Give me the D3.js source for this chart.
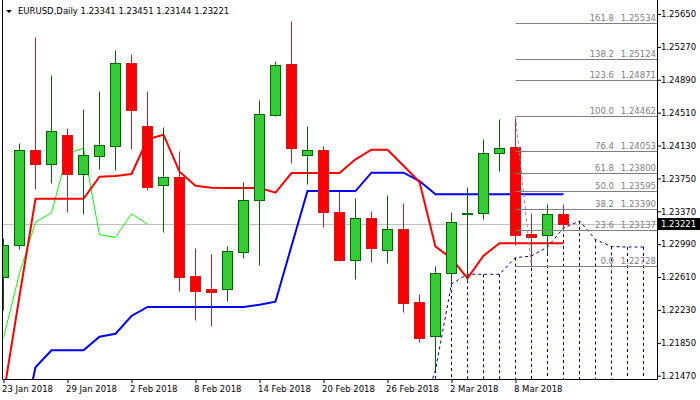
<!DOCTYPE html>
<html>
<head>
<meta charset="utf-8">
<script src="https://cdn.jsdelivr.net/npm/d3@7"></script>
<style>
  body { margin: 0; background: #fff; }
  text { font-family: "DejaVu Sans", Tahoma, sans-serif; font-size: 8.5px; }
</style>
</head>
<body>
<svg id="chart" width="700" height="400"></svg>
<script>
// EURUSD daily candles, 23 Jan .. 13 Mar 2018
var opens  = [1.22607,1.22980,1.24075,1.23920,1.24248,1.23804,1.24012,1.24128,1.25080,1.24352,1.23670,1.23763,1.22622,1.22472,1.22475,1.22903,1.23497,1.24486,1.25069,1.24017,1.24078,1.23358,1.22810,1.23289,1.22926,1.23162,1.22318,1.21929,1.22653,1.23342,1.23347,1.24040,1.24109,1.23107,1.23099,1.23341];
var highs  = [1.23061,1.24156,1.25381,1.24945,1.24332,1.24552,1.24760,1.25234,1.25188,1.24760,1.24341,1.24067,1.22946,1.22876,1.22969,1.23705,1.24656,1.25107,1.25569,1.24356,1.24124,1.23608,1.23527,1.23373,1.23558,1.23466,1.22414,1.22738,1.23362,1.23651,1.24205,1.24440,1.24462,1.23350,1.23454,1.23451];
var lows   = [1.22229,1.22931,1.23628,1.23697,1.23365,1.23339,1.23859,1.23847,1.24093,1.23619,1.23134,1.22452,1.22117,1.22048,1.22337,1.22834,1.22753,1.24475,1.23931,1.23689,1.23192,1.22799,1.22587,1.22787,1.22772,1.22209,1.21863,1.21536,1.22518,1.22576,1.23277,1.23839,1.22977,1.22728,1.22884,1.23144];
var closes = [1.22977,1.24075,1.23920,1.24294,1.23804,1.24017,1.24133,1.25080,1.24544,1.23654,1.23763,1.22614,1.22452,1.22443,1.22908,1.23497,1.24491,1.25057,1.24098,1.24075,1.23365,1.22810,1.23289,1.22949,1.23162,1.22313,1.21909,1.22653,1.23243,1.23354,1.24040,1.24098,1.23099,1.23069,1.23342,1.23221];

// ichimoku lines
var tenkan = [1.21247,1.22391,1.23515,1.23515,1.23515,1.23515,1.23770,1.23778,1.23801,1.24202,1.24255,1.23827,1.23666,1.23643,1.23639,1.23639,1.23639,1.23585,1.23812,1.23812,1.23812,1.23812,1.23971,1.24082,1.24082,1.23897,1.23708,1.22961,1.22827,1.22596,1.22857,1.23000,1.23000,1.23000,1.23000,1.23000];
var kijun  = [1.20704,1.20704,1.21567,1.21763,1.21763,1.21763,1.21921,1.21955,1.22160,1.22264,1.22264,1.22264,1.22264,1.22264,1.22264,1.22264,1.22290,1.22325,1.22969,1.23604,1.23604,1.23604,1.23604,1.23816,1.23816,1.23816,1.23720,1.23566,1.23566,1.23566,1.23566,1.23566,1.23566,1.23566,1.23566,1.23566];
var chikou = [1.21909,1.22653,1.23243,1.23354,1.24040,1.24098,1.23099,1.23069,1.23342,1.23221];
var spanStart = 26; // first bar of the drawn cloud
var spanA  = [1.20976,1.21536,1.22530,1.22642,1.22642,1.22642,1.22834,1.22853,1.22957,1.23177,1.23258,1.23044,1.22963,1.22957,1.22957];
var spanB  = [1.20450,1.20450,1.20450,1.20450,1.20450,1.20450,1.20450,1.20450,1.20450,1.20450,1.20450,1.20450,1.20450,1.20450,1.20450];

// fibonacci retracement, bar 32 high -> bar 33 low
var fibLevels = ["0.0","23.6","38.2","50.0","61.8","76.4","100.0","123.6","138.2","161.8"];
var fibPrices = [1.22728,1.23137,1.23390,1.23595,1.23800,1.24053,1.24462,1.24871,1.25124,1.25534];

var tickBars   = [0,4,8,12,16,20,24,28,32];
var tickLabels = ["23 Jan 2018","29 Jan 2018","2 Feb 2018","8 Feb 2018","14 Feb 2018","20 Feb 2018","26 Feb 2018","2 Mar 2018","8 Mar 2018"];
var priceTicks = [1.21470,1.21850,1.22230,1.22610,1.22990,1.23370,1.23750,1.24130,1.24510,1.24890,1.25270,1.25650];

var pLeft = 2, pRight = 657, pTop = 0, pBottom = 379;

var x = d3.scaleLinear().domain([0, 40]).range([3.5, 643.5]);
var y = d3.scaleLinear().domain([1.21470, 1.25650]).range([375.7, 14]);
function py(v) { return Math.round(y(v)) + 0.5; }

var svg = d3.select("#chart");

svg.append("defs").append("clipPath").attr("id", "clip")
  .append("rect")
    .attr("x", pLeft).attr("y", pTop)
    .attr("width", pRight - pLeft).attr("height", pBottom - pTop);

var plot = svg.append("g").attr("clip-path", "url(#clip)");

// bid line
plot.append("line")
    .attr("x1", pLeft).attr("x2", pRight)
    .attr("y1", py(closes[closes.length - 1])).attr("y2", py(closes[closes.length - 1]))
    .attr("stroke", "#c0c0c0");

// kumo hatching
plot.selectAll(".hatch")
    .data(spanA)
  .enter().append("line")
    .attr("class", "hatch")
    .attr("x1", function(d, k) { return x(spanStart + k); })
    .attr("x2", function(d, k) { return x(spanStart + k); })
    .attr("y1", function(d) { return y(d); })
    .attr("y2", function(d, k) { return y(spanB[k]); })
    .attr("stroke", "#000080")
    .attr("stroke-dasharray", "3,3");

var spanLine = d3.line()
    .x(function(d, k) { return x(spanStart + k); })
    .y(function(d) { return y(d); });

[spanA, spanB].forEach(function(s) {
  plot.append("path")
      .attr("d", spanLine(s))
      .attr("fill", "none")
      .attr("stroke", "#000080")
      .attr("stroke-dasharray", "3,3");
});

var line = d3.line()
    .x(function(d, i) { return x(i); })
    .y(function(d) { return y(d); });

plot.append("path").attr("d", line(chikou))
    .attr("fill", "none").attr("stroke", "#00ff00").attr("stroke-width", 1);
plot.append("path").attr("d", line(kijun))
    .attr("fill", "none").attr("stroke", "#0000ff").attr("stroke-width", 2);
plot.append("path").attr("d", line(tenkan))
    .attr("fill", "none").attr("stroke", "#ff0000").attr("stroke-width", 2);

// candles
var bar = plot.selectAll(".bar")
    .data(d3.range(closes.length))
  .enter().append("g")
    .attr("class", "bar");

bar.append("line")
    .attr("x1", function(i) { return x(i); })
    .attr("x2", function(i) { return x(i); })
    .attr("y1", function(i) { return py(highs[i]); })
    .attr("y2", function(i) { return py(lows[i]); })
    .attr("stroke", function(i) { return closes[i] >= opens[i] ? "#006400" : "#b22222"; });

bar.append("rect")
    .attr("x", function(i) { return x(i) - 5; })
    .attr("y", function(i) { return py(Math.max(opens[i], closes[i])); })
    .attr("width", 10)
    .attr("height", function(i) { return Math.max(1, py(Math.min(opens[i], closes[i])) - py(Math.max(opens[i], closes[i]))); })
    .attr("fill", function(i) { return closes[i] >= opens[i] ? "#32cd32" : "#ff0000"; })
    .attr("stroke", function(i) { return closes[i] >= opens[i] ? "#006400" : "#d01818"; });

// fibonacci
var fibX = x(32);
var fib = svg.append("g").selectAll("g")
    .data(fibPrices)
  .enter().append("g");

fib.append("line")
    .attr("x1", fibX).attr("x2", pRight)
    .attr("y1", function(d) { return py(d) - 1; })
    .attr("y2", function(d) { return py(d) - 1; })
    .attr("stroke", "#808080");

fib.append("text")
    .attr("x", 614)
    .attr("y", function(d) { return py(d) - 4; })
    .attr("text-anchor", "end")
    .attr("fill", "#808080")
    .text(function(d, k) { return fibLevels[k]; });

fib.append("text")
    .attr("x", 656)
    .attr("y", function(d) { return py(d) - 4; })
    .attr("text-anchor", "end")
    .attr("fill", "#808080")
    .text(function(d) { return d.toFixed(5); });

svg.append("line")
    .attr("x1", x(32)).attr("y1", y(highs[32]))
    .attr("x2", x(33)).attr("y2", y(lows[33]))
    .attr("stroke", "#778899")
    .attr("stroke-dasharray", "3,3");

// axes
var xAxis = d3.axisBottom(x)
    .tickValues(tickBars)
    .tickFormat(function(d, i) { return tickLabels[i]; })
    .tickSize(4);

var gx = svg.append("g")
    .attr("transform", "translate(0," + pBottom + ")")
    .call(xAxis);
gx.select(".domain").remove();
gx.selectAll("line").attr("stroke", "#000");
gx.selectAll("text")
    .attr("text-anchor", "start")
    .attr("dx", "-2")
    .attr("y", 7)
    .attr("fill", "#000");
gx.attr("font-family", null).attr("font-size", null);

var yAxis = d3.axisRight(y)
    .tickValues(priceTicks)
    .tickFormat(d3.format(".5f"))
    .tickSize(4)
    .tickPadding(0);

var gy = svg.append("g")
    .attr("transform", "translate(" + pRight + ",0)")
    .call(yAxis);
gy.select(".domain").remove();
gy.selectAll("line").attr("stroke", "#000");
gy.selectAll("text").attr("fill", "#000");
gy.attr("font-family", null).attr("font-size", null);

// frame
svg.append("path")
    .attr("d", "M" + (pLeft + 0.5) + "," + pTop + "V" + (pBottom + 0.5) + "H" + (pRight + 0.5) + "V" + pTop)
    .attr("fill", "none")
    .attr("stroke", "#000");

// current price tag
var last = closes[closes.length - 1];
svg.append("rect")
    .attr("x", pRight + 1).attr("y", Math.round(y(last)) - 6)
    .attr("width", 700 - pRight).attr("height", 12)
    .attr("fill", "#000");
svg.append("text")
    .attr("x", pRight + 4).attr("y", y(last))
    .attr("dy", "0.35em")
    .attr("fill", "#fff")
    .text(last.toFixed(5));

// title
svg.append("path")
    .attr("d", "M6,10 L12,10 L9,13 Z")
    .attr("fill", "#000");
svg.append("text")
    .attr("x", 18).attr("y", 14)
    .attr("fill", "#000")
    .text("EURUSD,Daily  " + [opens[35], highs[35], lows[35], closes[35]].map(function(d) { return d.toFixed(5); }).join(" "));
</script>
</body>
</html>
